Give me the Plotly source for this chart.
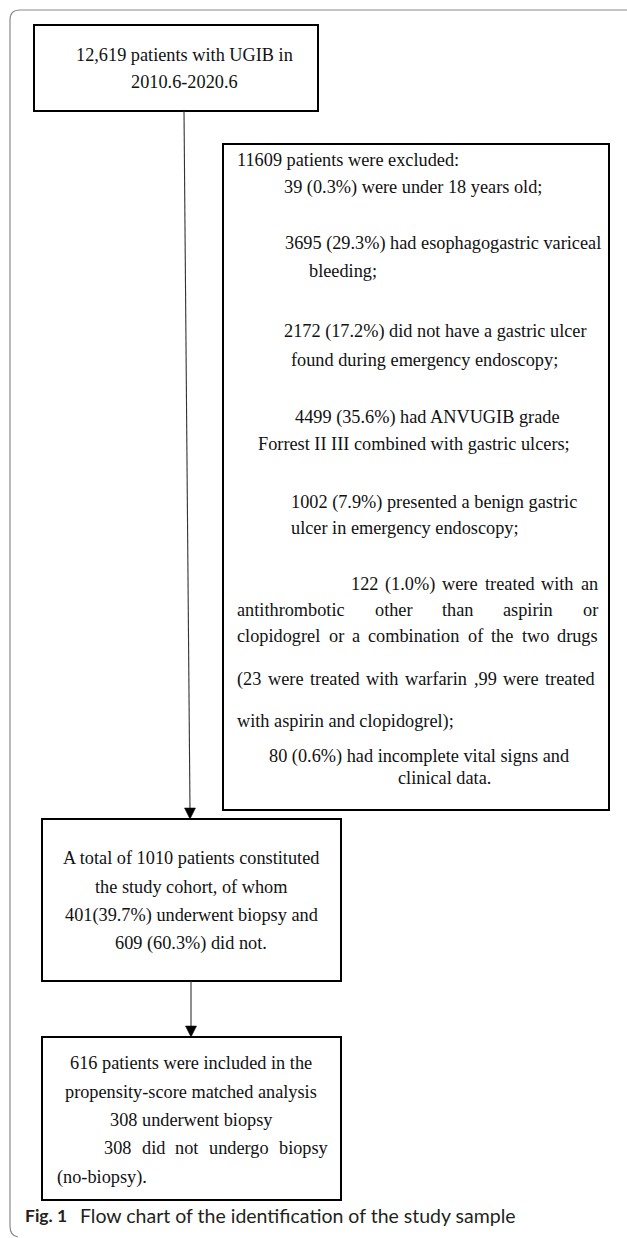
import plotly.graph_objects as go

# ---------------- content (text data) ----------------
box1_lines = ["12,619 patients with UGIB in", "2010.6-2020.6"]

excl_lines = [
    "11609 patients were excluded:",
    "39 (0.3%) were under 18 years old;",
    "3695 (29.3%) had esophagogastric variceal",
    "bleeding;",
    "2172 (17.2%) did not have a gastric ulcer",
    "found during emergency endoscopy;",
    "4499 (35.6%) had ANVUGIB grade",
    "Forrest II III combined with gastric ulcers;",
    "1002 (7.9%) presented a benign gastric",
    "ulcer in emergency endoscopy;",
    "122 (1.0%) were treated with an",
    "antithrombotic other than aspirin or",
    "clopidogrel or a combination of the two drugs",
    "(23 were treated with warfarin ,99 were treated",
    "with aspirin and clopidogrel);",
    "80 (0.6%) had incomplete vital signs and",
    "clinical data.",
]

cohort_lines = [
    "A total of 1010 patients constituted",
    "the study cohort, of whom",
    "401(39.7%) underwent biopsy and",
    "609 (60.3%) did not.",
]

matched_lines = [
    "616 patients were included in the",
    "propensity-score matched analysis",
    "308 underwent biopsy",
    "308 did not undergo biopsy",
    "(no-biopsy).",
]

caption_label = "Fig. 1"
caption_text = "Flow chart of the identification of the study sample"

# ---------------- layout (positions / styles) ----------------
W, H = 627, 1238
FS = 18.3
SERIF = "Liberation Serif, Times New Roman, serif"
SANS = "Lato, Noto Sans, sans-serif"
TXT = "#111111"

boxes = {
    "box1": (34, 25, 318, 111),
    "excl": (223, 144, 609, 810),
    "cohort": (42, 819, 341, 981),
    "matched": (42, 1037, 341, 1200),
}

box1_pos = dict(cx=184, ys=[55, 82])
excl_pos = [  # (x_start, y, justify_to or None)
    (236, 160, None), (283, 187, None),
    (284, 243, None), (308, 271, None),
    (283, 331, None), (290, 360, None),
    (294, 417, None), (257, 444, None),
    (290, 502, None), (290, 528, None),
    (350, 584, 597), (236, 610, 597), (236, 636, 597),
    (236, 679, 594), (236, 721, None),
    (268, 756, None), (397, 778, None),
]
cohort_pos = dict(cx=191, ys=[858, 887, 915, 943])
matched_pos = [(None, 1063, None), (None, 1092, None), (None, 1120, None),
               (103, 1148, 327), (56, 1177, None)]
matched_cx = 191

# Times-Roman advance widths (per 1000 em)
TW = {" ": 250, "!": 333, "(": 333, ")": 333, "%": 833, ",": 250, "-": 333,
      ".": 250, ":": 278, ";": 278}
for d in "0123456789":
    TW[d] = 500
TW.update(dict(zip("ABCDEFGHIJKLMNOPQRSTUVWXYZ",
                   [722, 667, 667, 722, 611, 556, 722, 722, 333, 389, 722, 611, 889,
                    722, 722, 556, 722, 667, 556, 611, 722, 722, 944, 722, 722, 611])))
TW.update(dict(zip("abcdefghijklmnopqrstuvwxyz",
                   [444, 500, 444, 500, 444, 333, 500, 500, 278, 278, 500, 278, 778,
                    500, 500, 500, 500, 333, 389, 278, 500, 500, 722, 500, 500, 444])))


def tw(s):
    return sum(TW.get(c, 500) for c in s) / 1000.0 * FS


fig = go.Figure()
annotations = []
shapes = []


def add_text(text, x, y, anchor="left", font=None):
    annotations.append(dict(
        x=x, y=y, xref="x", yref="y", text=text, showarrow=False,
        xanchor=anchor, yanchor="middle", borderpad=0,
        font=font or dict(family=SERIF, size=FS, color=TXT)))


def add_line_text(text, x0, y, x1=None):
    if x1 is None:
        add_text(text, x0, y)
        return
    words = text.split()
    total = sum(tw(w) for w in words)
    gap = max((x1 - x0 - total) / (len(words) - 1), tw(" "))
    x = x0
    for w in words:
        add_text(w, x, y)
        x += tw(w) + gap


# outer rounded frame (open to right/bottom)
shapes.append(dict(type="path", xref="x", yref="y",
                   path="M 627,10 L 20,10 Q 10,10 10,20 L 10,1226 Q 10,1236 18,1237",
                   line=dict(color="#8a8a8a", width=1.2)))

for (x0, y0, x1, y1) in boxes.values():
    shapes.append(dict(type="rect", xref="x", yref="y", x0=x0, y0=y0, x1=x1, y1=y1,
                       line=dict(color="#000000", width=2), fillcolor="rgba(0,0,0,0)"))

# arrows
arrows = [((184, 111), (190, boxes["cohort"][1])),
          ((191, boxes["cohort"][3]), (191, boxes["matched"][1]))]
for (xa, ya), (xb, yb) in arrows:
    shapes.append(dict(type="line", xref="x", yref="y", x0=xa, y0=ya, x1=xb, y1=yb - 8,
                       line=dict(color="#333333", width=1.1)))
    shapes.append(dict(type="path", xref="x", yref="y",
                       path=f"M {xb-5.5},{yb-11} L {xb+5.5},{yb-11} L {xb},{yb} Z",
                       fillcolor="#000000", line=dict(color="#000000", width=0.5)))

for t, y in zip(box1_lines, box1_pos["ys"]):
    add_text(t, box1_pos["cx"], y, anchor="center")

for t, (x0, y, x1) in zip(excl_lines, excl_pos):
    add_line_text(t, x0, y, x1)

for t, y in zip(cohort_lines, cohort_pos["ys"]):
    add_text(t, cohort_pos["cx"], y, anchor="center")

for t, (x0, y, x1) in zip(matched_lines, matched_pos):
    if x0 is None:
        add_text(t, matched_cx, y, anchor="center")
    else:
        add_line_text(t, x0, y, x1)

# caption
add_text(f"<b>{caption_label}</b>", 24, 1215, font=dict(family=SANS, size=17.5, color="#231f20"))
add_text(caption_text, 79, 1215, font=dict(family=SANS, size=19.5, color="#231f20"))

fig.update_layout(
    width=W, height=H, autosize=False,
    margin=dict(l=0, r=0, t=0, b=0),
    paper_bgcolor="white", plot_bgcolor="white",
    xaxis=dict(range=[0, W], visible=False, fixedrange=True),
    yaxis=dict(range=[H, 0], visible=False, fixedrange=True),
    shapes=shapes, annotations=annotations, showlegend=False,
)

fig.write_html("out.html", config={"displayModeBar": False},
               post_script="document.body.style.margin='0';document.body.style.overflow='hidden';")
